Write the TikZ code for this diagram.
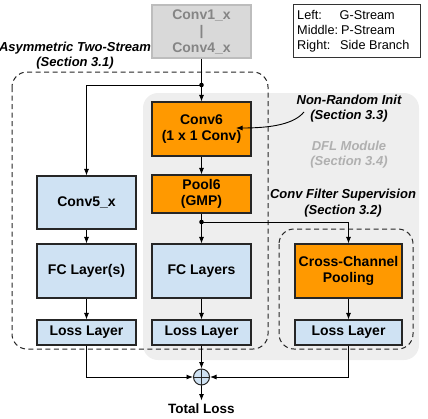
\documentclass[tikz,border=0pt]{standalone}
\usepackage{fontspec}
\setmainfont{Liberation Sans}
\usetikzlibrary{arrows.meta}
\definecolor{orng}{HTML}{FF9900}
\definecolor{lblue}{HTML}{CFE2F3}
\definecolor{dflgray}{HTML}{EEEEEE}
\definecolor{c1fill}{HTML}{D9D9D9}
\definecolor{c1line}{HTML}{BDBDBD}
\definecolor{c1text}{HTML}{858585}
\definecolor{dfltext}{HTML}{B0B0B0}
\tikzset{
  box/.style={draw=black!85, line width=1.1pt, align=center, inner sep=0pt,
    font=\fontsize{14}{16.5}\selectfont\bfseries},
  bluebox/.style={box, fill=lblue},
  orangebox/.style={box, fill=orng},
  arr/.style={line width=0.9pt, -{Latex[length=6.5pt,width=5pt]}},
  dashbox/.style={draw=black!85, line width=1pt, dash pattern=on 5pt off 3.5pt, rounded corners=15pt},
  lbl/.style={align=center, font=\fontsize{13}{15.5}\selectfont\bfseries\itshape},
  legtxt/.style={anchor=base west, inner sep=0pt, font=\fontsize{12.7}{14}\selectfont},
}
\begin{document}
\begin{tikzpicture}[x=1pt, y=-1pt]
\useasboundingbox (0,0) rectangle (428,418);
% DFL region
\fill[dflgray, rounded corners=15pt] (143,93) rectangle (419,360);
% dashed regions
\draw[dashbox] (12,72) rectangle (268,349);
\draw[dashbox] (279,229) rectangle (413,349);
% labels
\node[lbl] (asym) at (75,55.5) {Asymmetric Two-Stream\\(Section 3.1)};
\node[lbl] (nri) at (349,108.5) {Non-Random Init\\(Section 3.3)};
\node[lbl, text=dfltext] (dfl) at (349,154.5) {DFL Module\\(Section 3.4)};
\node[lbl] (cfs) at (343,203) {Conv Filter Supervision\\(Section 3.2)};
% legend
\node[draw=black!80, line width=0.8pt, minimum width=127pt, minimum height=53pt, inner sep=0pt] (legend) at (356.5,30.5) {};
\node[legtxt] (l1a) at (297,19.5) {Left:};
\node[legtxt] (l1b) at (339.5,19.5) {G-Stream};
\node[legtxt] (l2a) at (297,34.5) {Middle:};
\node[legtxt] (l2b) at (341,34.5) {P-Stream};
\node[legtxt] (l3a) at (297,49.5) {Right:};
\node[legtxt] (l3b) at (340,49.5) {Side Branch};
% boxes
\node[box, fill=c1fill, draw=c1line, text=c1text, minimum width=99pt, minimum height=53pt] (conv1) at (201.5,31.5) {Conv1\_x\\|\\Conv4\_x};
\node[orangebox, minimum width=99pt, minimum height=54pt] (conv6) at (201.5,129) {Conv6\\(1 x 1 Conv)};
\node[orangebox, minimum width=99pt, minimum height=38pt] (pool6) at (201.5,194) {Pool6\\(GMP)};
\node[bluebox, minimum width=99pt, minimum height=53pt] (conv5) at (86.5,202.5) {Conv5\_x};
\node[bluebox, minimum width=99pt, minimum height=54pt] (fcl) at (86.5,271) {FC Layer(s)};
\node[bluebox, minimum width=99pt, minimum height=25pt] (lossl) at (86.5,332.5) {Loss Layer};
\node[bluebox, minimum width=99pt, minimum height=54pt] (fcm) at (201.5,271) {FC Layers};
\node[bluebox, minimum width=99pt, minimum height=25pt] (lossm) at (201.5,332.5) {Loss Layer};
\node[orangebox, minimum width=107pt, minimum height=54pt] (ccp) at (348.5,271) {Cross-Channel\\Pooling};
\node[bluebox, minimum width=107pt, minimum height=25pt] (lossr) at (348.5,332.5) {Loss Layer};
\node[draw=black!85, fill=lblue, line width=1pt, circle, minimum size=16pt, inner sep=0pt] (sum) at (201.5,377) {};
\draw[line width=1pt, black!85] (sum.north) -- (sum.south) (sum.west) -- (sum.east);
\node[font=\fontsize{13.5}{15}\selectfont\bfseries] (total) at (201.5,409) {Total Loss};
% connectors
\coordinate (split1) at (201.5,85);
\coordinate (split2) at (201.5,222);
\coordinate (tipnri) at (236,128);
\coordinate (startnri) at (304,112);
\draw[arr] (conv1.south) -- (conv6.north);
\fill (split1) circle (2.3pt);
\draw[arr] (split1) -| (conv5.north);
\draw[arr] (conv6.south) -- (pool6.north);
\draw[arr] (pool6.south) -- (fcm.north);
\fill (split2) circle (2.3pt);
\draw[arr] (split2) -| (ccp.north);
\draw[arr] (conv5.south) -- (fcl.north);
\draw[arr] (fcl.south) -- (lossl.north);
\draw[arr] (fcm.south) -- (lossm.north);
\draw[arr] (ccp.south) -- (lossr.north);
\draw[arr] (lossl.south) |- (sum.west);
\draw[arr] (lossr.south) |- (sum.east);
\draw[arr] (lossm.south) -- (sum.north);
\draw[arr] (sum.south) -- (total.north);
\draw[arr] (startnri) .. controls (294,124) and (272,128) .. (tipnri);
\end{tikzpicture}
\end{document}
